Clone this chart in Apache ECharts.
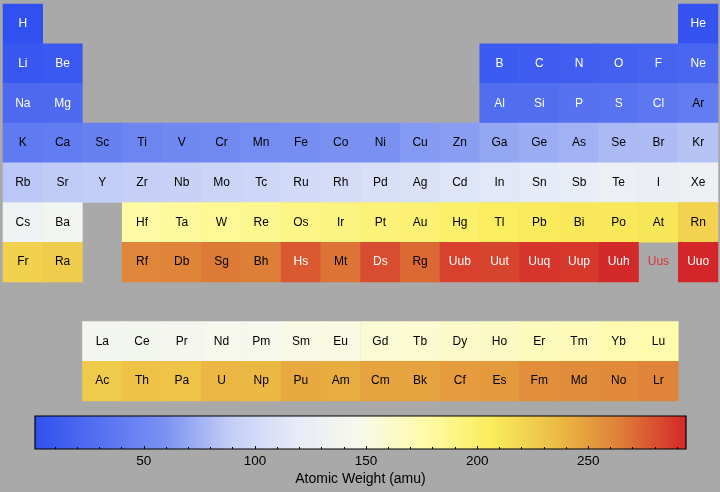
<!DOCTYPE html>
<html><head><meta charset="utf-8">
<script src="https://cdn.jsdelivr.net/npm/echarts@6/dist/echarts.min.js"></script>
<style>html,body{margin:0;padding:0;background:#a9a9a9}#c{width:720px;height:492px}</style>
</head><body><div id="c"></div><script>
const symbols = [
 'H','He',
 'Li','Be','B','C','N','O','F','Ne',
 'Na','Mg','Al','Si','P','S','Cl','Ar',
 'K','Ca','Sc','Ti','V','Cr','Mn','Fe','Co','Ni','Cu','Zn','Ga','Ge','As','Se','Br','Kr',
 'Rb','Sr','Y','Zr','Nb','Mo','Tc','Ru','Rh','Pd','Ag','Cd','In','Sn','Sb','Te','I','Xe',
 'Cs','Ba','Hf','Ta','W','Re','Os','Ir','Pt','Au','Hg','Tl','Pb','Bi','Po','At','Rn',
 'Fr','Ra','Rf','Db','Sg','Bh','Hs','Mt','Ds','Rg','Uub','Uut','Uuq','Uup','Uuh','Uus','Uuo',
 'La','Ce','Pr','Nd','Pm','Sm','Eu','Gd','Tb','Dy','Ho','Er','Tm','Yb','Lu',
 'Ac','Th','Pa','U','Np','Pu','Am','Cm','Bk','Cf','Es','Fm','Md','No','Lr'
];
const weights = [
 1.008,4.003,
 6.94,9.012,10.81,12.011,14.007,15.999,18.998,20.18,
 22.99,24.305,26.982,28.085,30.974,32.06,35.45,39.948,
 39.098,40.078,44.956,47.867,50.942,51.996,54.938,55.845,58.933,58.693,63.546,65.38,69.723,72.63,74.922,78.97,79.904,83.798,
 85.468,87.62,88.906,91.224,92.906,95.95,98,101.07,102.91,106.42,107.87,112.41,114.82,118.71,121.76,127.6,126.9,131.29,
 132.91,137.33,178.49,180.95,183.84,186.21,190.23,192.22,195.08,196.97,200.59,204.38,207.2,208.98,209,210,222,
 223,226,261,262,266,264,277,268,281,272,285,284,289,288,293,null,294,
 138.91,140.12,140.91,144.24,145,150.36,151.96,157.25,158.93,162.5,164.93,167.26,168.93,173.05,174.97,
 227,232.04,231.04,238.03,237,244,243,247,247,251,252,257,258,259,262
];
const columns = [
 0,17,
 0,1,12,13,14,15,16,17,
 0,1,12,13,14,15,16,17,
 0,1,2,3,4,5,6,7,8,9,10,11,12,13,14,15,16,17,
 0,1,2,3,4,5,6,7,8,9,10,11,12,13,14,15,16,17,
 0,1,3,4,5,6,7,8,9,10,11,12,13,14,15,16,17,
 0,1,3,4,5,6,7,8,9,10,11,12,13,14,15,16,17,
 2,3,4,5,6,7,8,9,10,11,12,13,14,15,16,
 2,3,4,5,6,7,8,9,10,11,12,13,14,15,16
];
const rowCounts = [2,8,8,18,18,17,17,0,15,15];
const colorbarTicks = [50,100,150,200,250];
const colorbarTitle = 'Atomic Weight (amu)';

const rows = [];
rowCounts.forEach((n,r)=>{for(let i=0;i<n;i++) rows.push(r);});

const palette = ['#3050f0','#5571f0','#7b92f2','#c3cef6','#e6ebf8','#f8f9ec','#fffba8','#faed5c','#ecbc44','#de7e38','#d42628'];
const valid = weights.filter(w=>w!=null);
const vmin = Math.min(...valid), vmax = Math.max(...valid);

const cells = [], missing = [];
symbols.forEach((s,i)=>{
  const w = weights[i];
  if (w == null) {
    missing.push({name:s, value:[columns[i], rows[i]]});
  } else {
    const light = (w < 38 || w > 275);
    cells.push({name:s, value:[columns[i], rows[i], w], label:{color: light ? '#ffffff' : '#000000'}});
  }
});

const cats18 = Array.from({length:18},(_,i)=>String(i));
const cats10 = Array.from({length:10},(_,i)=>String(i));
const font = "'Liberation Sans', Arial, Helvetica, sans-serif";

const chart = echarts.init(document.getElementById('c'));
chart.setOption({
  backgroundColor:'#a9a9a9',
  animation:false,
  grid:[
    {left:3,right:2,top:4,bottom:91},
    {left:35,width:651,top:416,height:33,show:true,borderColor:'#000',borderWidth:1.2,
     backgroundColor:new echarts.graphic.LinearGradient(0,0,1,0,palette.map((c,i)=>({offset:i/(palette.length-1),color:c})))}
  ],
  xAxis:[
    {type:'category',data:cats18,gridIndex:0,show:false},
    {type:'value',gridIndex:1,min:vmin,max:vmax,position:'bottom',
     axisLine:{show:false},
     axisTick:{show:true,inside:true,length:3,lineStyle:{color:'#000'},customValues:colorbarTicks},
     minorTick:{show:true,splitNumber:5,length:2,lineStyle:{color:'#000'}},
     splitLine:{show:false},
     axisLabel:{color:'#000',fontSize:13.5,fontFamily:font,margin:5,showMinLabel:true,showMaxLabel:true,customValues:colorbarTicks},
     name:colorbarTitle,nameLocation:'middle',nameGap:23,nameTextStyle:{color:'#000',fontSize:14,fontFamily:font}}
  ],
  yAxis:[
    {type:'category',data:cats10,gridIndex:0,inverse:true,show:false},
    {type:'value',gridIndex:1,show:false}
  ],
  visualMap:{type:'continuous',show:false,min:vmin,max:vmax,dimension:2,seriesIndex:0,inRange:{color:palette}},
  series:[
    {type:'heatmap',xAxisIndex:0,yAxisIndex:0,data:cells,
     label:{show:true,formatter:p=>p.name,fontSize:12,fontFamily:font},
     emphasis:{disabled:true}},
    {type:'scatter',xAxisIndex:0,yAxisIndex:0,data:missing,symbol:'rect',symbolSize:30,itemStyle:{color:'rgba(0,0,0,0)'},
     label:{show:true,position:'inside',formatter:p=>p.name,color:'#e8141a',fontSize:12,fontFamily:font},
     emphasis:{disabled:true}}
  ]
});
</script></body></html>
